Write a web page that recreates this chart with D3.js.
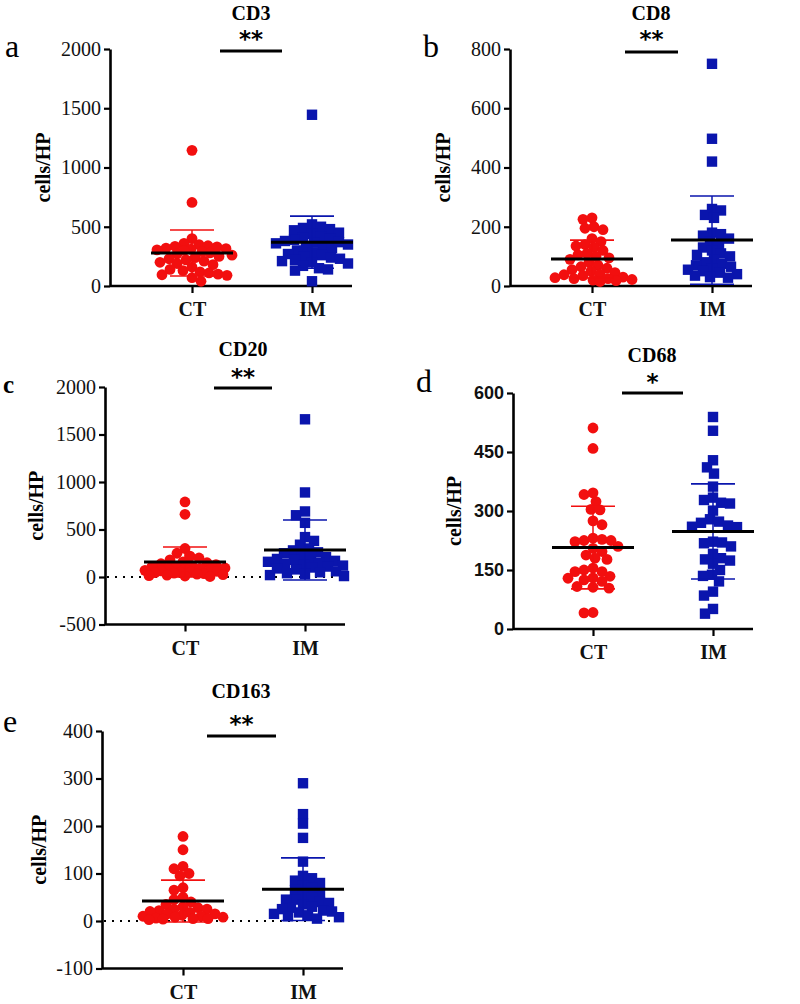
<!DOCTYPE html>
<html>
<head>
<meta charset="utf-8">
<script src="https://cdn.jsdelivr.net/npm/d3@7/dist/d3.min.js"></script>
<style>
  html, body { margin: 0; padding: 0; background: #fff; }
  svg { display: block; }
</style>
</head>
<body>
<svg id="chart" width="800" height="1004"></svg>
<script>
// ---------------- DATA ----------------
const categories = ['CT', 'IM'];
const panelTitles = ['CD3', 'CD8', 'CD20', 'CD68', 'CD163'];
const panelLetters = ['a', 'b', 'c', 'd', 'e'];
const significance = ['**', '**', '**', '*', '**'];
const yAxisLabel = 'cells/HP';

const cd3Ticks = [0, 500, 1000, 1500, 2000];
const cd8Ticks = [0, 200, 400, 600, 800];
const cd20Ticks = [-500, 0, 500, 1000, 1500, 2000];
const cd68Ticks = [0, 150, 300, 450, 600];
const cd163Ticks = [-100, 0, 100, 200, 300, 400];

const cd3CT = [1145, 705, 400, 360, 350, 340, 335, 330, 320, 315, 310, 305, 300, 290, 280, 270, 260, 250, 240,
  230, 220, 210, 200, 190, 180, 160, 140, 130, 120, 110, 100, 95, 90, 70, 40];
const cd3IM = [1445, 520, 500, 490, 480, 470, 450, 440, 420, 410, 400, 390, 380, 370, 365, 360, 350, 340, 330,
  320, 300, 280, 270, 260, 250, 240, 230, 220, 210, 200, 190, 170, 150, 140, 130, 40];
const cd3Mean = [278, 370];
const cd3SD = [194, 220];

const cd8CT = [230, 225, 200, 195, 190, 160, 150, 140, 135, 130, 120, 110, 105, 100, 95, 90, 80, 70, 65, 60, 55,
  50, 45, 40, 38, 35, 30, 28, 25, 25, 22, 20, 18, 15];
const cd8IM = [750, 497, 420, 260, 255, 240, 230, 180, 175, 170, 160, 150, 140, 130, 120, 110, 105, 100, 90, 80,
  75, 70, 65, 60, 55, 50, 45, 40, 35, 30, 28];
const cd8Mean = [91, 155];
const cd8SD = [64, 149];

const cd20CT = [790, 660, 300, 250, 220, 200, 180, 160, 150, 140, 130, 120, 110, 100, 95, 90, 85, 80, 75, 70, 65,
  60, 55, 50, 45, 40, 35, 30, 25, 20, 15, 10, 5];
const cd20IM = [1660, 890, 690, 650, 570, 420, 380, 340, 300, 280, 260, 250, 230, 210, 200, 190, 180, 170, 160,
  150, 140, 130, 120, 110, 100, 90, 80, 60, 50, 40, 30, 20, 10];
const cd20Mean = [158, 284];
const cd20SD = [158, 316];

const cd68CT = [511, 459, 346, 342, 324, 304, 303, 275, 265, 231, 228, 225, 225, 222, 210, 205, 197, 188, 180,
  177, 155, 150, 146, 146, 134, 130, 129, 125, 121, 108, 106, 104, 42, 41];
const cd68IM = [539, 504, 429, 411, 395, 362, 334, 328, 321, 319, 301, 279, 273, 270, 263, 260, 259, 222, 220,
  218, 210, 191, 180, 177, 174, 166, 150, 138, 135, 121, 95, 85, 51, 39];
const cd68Mean = [207, 248];
const cd68SD = [105, 121];

const cd163CT = [178, 150, 115, 110, 100, 95, 70, 65, 50, 45, 40, 35, 30, 28, 25, 25, 22, 20, 18, 15, 15, 12, 10,
  10, 8, 8, 6, 5, 5, 4, 3];
const cd163IM = [290, 225, 205, 175, 125, 95, 90, 85, 80, 75, 70, 65, 60, 55, 50, 45, 45, 40, 38, 35, 30, 28, 25,
  22, 20, 18, 15, 12, 10, 8, 5];
const cd163Mean = [42, 67];
const cd163SD = [44, 66];

// ---------------- LAYOUT (positions / styles) ----------------
const RED = '#f20f0f';
const BLUE = '#0a15ad';
const SERIF = '"Liberation Serif", "Times New Roman", Times, serif';
const SANS = '"Liberation Sans", Arial, sans-serif';

const panels = [
  { ticks: cd3Ticks, data: [cd3CT, cd3IM], mean: cd3Mean, sd: cd3SD, zeroLine: false,
    x0: 110, yTop: 49, yBot: 286, xCT: 192, xIM: 312, xEnd: 352,
    titleX: 251, titleY: 20, starY: 47, bar: [220, 282], barY: 51, letterX: 5, letterY: 57, labelX: 50, tickSans: false },
  { ticks: cd8Ticks, data: [cd8CT, cd8IM], mean: cd8Mean, sd: cd8SD, zeroLine: false,
    x0: 510, yTop: 49, yBot: 286, xCT: 592, xIM: 712, xEnd: 752,
    titleX: 651, titleY: 20, starY: 47, bar: [625, 678], barY: 52, letterX: 423, letterY: 57, labelX: 450, tickSans: false },
  { ticks: cd20Ticks, data: [cd20CT, cd20IM], mean: cd20Mean, sd: cd20SD, zeroLine: true,
    x0: 105, yTop: 387, yBot: 624.5, xCT: 185, xIM: 305, xEnd: 345,
    titleX: 243, titleY: 356, starY: 385, bar: [214, 272], barY: 388, letterX: 3, letterY: 393, labelX: 43, tickSans: false, letterBold: true, letterSize: 25 },
  { ticks: cd68Ticks, data: [cd68CT, cd68IM], mean: cd68Mean, sd: cd68SD, zeroLine: false,
    x0: 513, yTop: 393, yBot: 629, xCT: 593, xIM: 713, xEnd: 753,
    titleX: 652, titleY: 362, starY: 390, bar: [622, 683], barY: 393, letterX: 416, letterY: 392, labelX: 461, tickSans: true },
  { ticks: cd163Ticks, data: [cd163CT, cd163IM], mean: cd163Mean, sd: cd163SD, zeroLine: true,
    x0: 102, yTop: 731, yBot: 968.5, xCT: 183, xIM: 303, xEnd: 343,
    titleX: 241, titleY: 698, starY: 732, bar: [207, 276], barY: 736, letterX: 3, letterY: 732, labelX: 46, tickSans: false }
];

const svg = d3.select('#chart');

// simple beeswarm layout computed from values (allows overlap when crowded)
function swarm(vals, y, minDist, maxOff) {
  const pts = vals.map((v, i) => ({ v, yy: y(v), i })).sort((a, b) => a.yy - b.yy);
  const placed = [];
  let flip = 1;
  for (const p of pts) {
    let chosen = null, bestOff = 0, bestD = -1;
    for (let k = 0; k <= maxOff * 2; k++) {
      const mag = Math.ceil(k / 2);
      const off = (k % 2 === 1 ? flip : -flip) * mag;
      let dmin = Infinity;
      for (const q of placed) {
        const dx = off - q.off, dy = p.yy - q.yy;
        dmin = Math.min(dmin, Math.sqrt(dx * dx + dy * dy));
      }
      if (dmin >= minDist) { chosen = off; break; }
      if (dmin > bestD + 0.5) { bestD = dmin; bestOff = off; }
    }
    p.off = chosen === null ? bestOff : chosen;
    flip = -flip;
    placed.push(p);
  }
  return pts;
}

const fmt = d => String(d);

panels.forEach((P, pi) => {
  const g = svg.append('g');
  const y = d3.scaleLinear().domain([P.ticks[0], P.ticks[P.ticks.length - 1]]).range([P.yBot, P.yTop]);
  const x = d3.scalePoint().domain(categories).range([P.xCT, P.xIM]);

  // y axis
  const yAxis = d3.axisLeft(y).tickValues(P.ticks).tickFormat(fmt).tickSize(6).tickSizeOuter(0).tickPadding(3);
  const ya = g.append('g').attr('transform', `translate(${P.x0},0)`).call(yAxis);
  ya.attr('font-family', null).attr('font-size', null);
  ya.select('.domain').attr('stroke', '#000').attr('stroke-width', 2.6);
  ya.selectAll('.tick line').attr('stroke', '#000').attr('stroke-width', 2.2);
  ya.selectAll('.tick text')
    .attr('fill', '#111')
    .attr('font-family', P.tickSans ? SANS : SERIF)
    .attr('font-weight', P.tickSans ? 'bold' : 'normal')
    .attr('font-size', P.tickSans ? 18 : 20);

  // x axis line
  g.append('line').attr('x1', P.x0).attr('x2', P.xEnd).attr('y1', P.yBot).attr('y2', P.yBot)
    .attr('stroke', '#000').attr('stroke-width', 2.6);
  const xAxis = d3.axisBottom(x).tickSize(7).tickSizeOuter(0);
  const xa = g.append('g').attr('transform', `translate(0,${P.yBot})`).call(xAxis);
  xa.attr('font-family', null).attr('font-size', null);
  xa.select('.domain').remove();
  xa.selectAll('.tick line').attr('stroke', '#000').attr('stroke-width', 2.2);
  xa.selectAll('.tick text')
    .attr('y', 30).attr('dy', null)
    .attr('fill', '#111')
    .attr('font-family', SERIF).attr('font-weight', 'bold').attr('font-size', 20);

  // dotted zero line
  if (P.zeroLine) {
    g.append('line').attr('x1', P.x0 + 2).attr('x2', P.xEnd).attr('y1', y(0)).attr('y2', y(0))
      .attr('stroke', '#000').attr('stroke-width', 2).attr('stroke-dasharray', '2,6');
  }

  // points
  P.data.forEach((vals, ci) => {
    const cx = x(categories[ci]);
    const pts = swarm(vals, y, 9, 40);
    if (ci === 0) {
      g.append('g').selectAll('circle').data(pts).join('circle')
        .attr('cx', d => cx + d.off).attr('cy', d => d.yy).attr('r', 5.4).attr('fill', RED);
    } else {
      g.append('g').selectAll('rect').data(pts).join('rect')
        .attr('x', d => cx + d.off - 5.2).attr('y', d => d.yy - 5.2).attr('width', 10.4).attr('height', 10.4).attr('fill', BLUE);
    }
    const col = ci === 0 ? RED : BLUE;
    const m = P.mean[ci], s = P.sd[ci];
    // SD error bar
    g.append('line').attr('x1', cx).attr('x2', cx).attr('y1', y(m - s)).attr('y2', y(m + s))
      .attr('stroke', col).attr('stroke-width', 1.5);
    [m - s, m + s].forEach(v => {
      g.append('line').attr('x1', cx - 22).attr('x2', cx + 22).attr('y1', y(v)).attr('y2', y(v))
        .attr('stroke', col).attr('stroke-width', 1.6);
    });
    // mean line
    g.append('line').attr('x1', cx - 41).attr('x2', cx + 41).attr('y1', y(m)).attr('y2', y(m))
      .attr('stroke', '#000').attr('stroke-width', 3);
  });

  // y label
  g.append('text')
    .attr('transform', `translate(${P.labelX},${(P.yTop + P.yBot) / 2}) rotate(-90)`)
    .attr('text-anchor', 'middle')
    .attr('font-family', SERIF).attr('font-weight', 'bold').attr('font-size', 20)
    .text(yAxisLabel);

  // title
  g.append('text').attr('x', P.titleX).attr('y', P.titleY).attr('text-anchor', 'middle')
    .attr('font-family', SERIF).attr('font-weight', 'bold').attr('font-size', 20)
    .text(panelTitles[pi]);

  // significance
  g.append('text').attr('x', (P.bar[0] + P.bar[1]) / 2).attr('y', P.starY).attr('text-anchor', 'middle')
    .attr('font-family', '"DejaVu Sans", sans-serif').attr('font-weight', 'bold').attr('font-size', 23)
    .text(significance[pi]);
  g.append('line').attr('x1', P.bar[0]).attr('x2', P.bar[1]).attr('y1', P.barY).attr('y2', P.barY)
    .attr('stroke', '#000').attr('stroke-width', 3.2);

  // panel letter
  g.append('text').attr('x', P.letterX).attr('y', P.letterY)
    .attr('font-family', SERIF).attr('font-weight', P.letterBold ? 'bold' : 'normal')
    .attr('font-size', P.letterSize || 32)
    .text(panelLetters[pi]);
});
</script>
</body>
</html>
